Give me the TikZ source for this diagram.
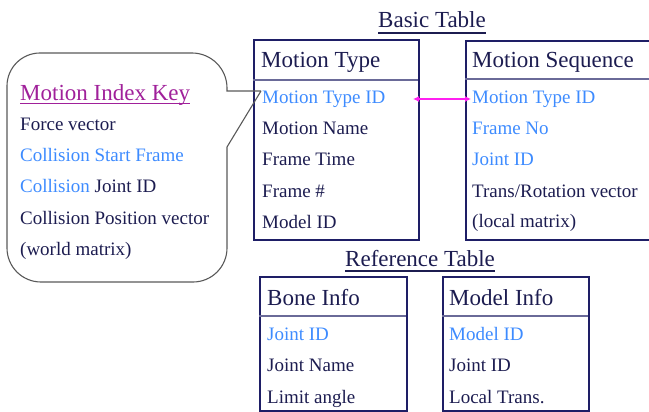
\documentclass[tikz,border=0pt]{standalone}
\usepackage{fontspec}
\setmainfont{Liberation Serif}
\usetikzlibrary{arrows.meta}
\definecolor{navy}{HTML}{1E1E66}
\definecolor{ink}{HTML}{1C1C50}
\definecolor{keyblue}{HTML}{3D8BFF}
\definecolor{keypurple}{HTML}{A0209A}
\definecolor{rule}{HTML}{6A6A98}
\definecolor{linkpink}{HTML}{FF20F0}
\tikzset{
  x=1pt, y=-1pt,
  tablebox/.style={draw=navy, line width=2.2pt},
  headrule/.style={draw=rule, line width=1.4pt},
  txt/.style={anchor=base west, inner sep=0pt, font=\fontsize{19}{22}\selectfont, text=ink},
  keytxt/.style={txt, text=keyblue},
  headtxt/.style={anchor=base west, inner sep=0pt, font=\fontsize{23}{26}\selectfont, text=ink},
  titletxt/.style={headtxt},
  uline/.style={draw=ink, line width=1.2pt},
  balloon/.style={draw=black!65, line width=1.1pt},
  link/.style={draw=linkpink, line width=1.5pt, {Latex[length=6pt,width=6pt]}-{Latex[length=6pt,width=6pt]}}
}
\begin{document}
\begin{tikzpicture}
\useasboundingbox (0,0) rectangle (649,412);

% ---- titles
\node[titletxt] (basic) at (378,28) {Basic Table};
\draw[uline] ([yshift=-5pt]basic.base west) -- ([yshift=-5pt]basic.base east);
\node[titletxt] (ref) at (345,266) {Reference Table};
\draw[uline] ([yshift=-5pt]ref.base west) -- ([yshift=-5pt]ref.base east);

% ---- Motion Type table
\node[tablebox, anchor=north west, minimum width=165pt, minimum height=200pt, inner sep=0pt] (mt) at (253,39) {};
\draw[headrule] (253,80) coordinate (mtl) -- (418,80) coordinate (mtr);
\node[headtxt] (mth) at (261,68) {Motion Type};
\node[keytxt] (mtid) at (262,104) {Motion Type ID};
\node[txt] (mtname) at (262,135) {Motion Name};
\node[txt] (mttime) at (262,166) {Frame Time};
\node[txt] (mtframe) at (262,197) {Frame \#};
\node[txt] (mtmodel) at (262,228) {Model ID};

% ---- Motion Sequence table (runs past the right edge)
\node[tablebox, anchor=north west, minimum width=200pt, minimum height=199pt, inner sep=0pt] (ms) at (465,40) {};
\draw[headrule] (465,79) coordinate (msl) -- (665,79) coordinate (msr);
\node[headtxt] (msh) at (472,68) {Motion Sequence};
\node[keytxt] (msid) at (472,104) {Motion Type ID};
\node[keytxt] (msframe) at (472,135) {Frame No};
\node[keytxt] (msjoint) at (472,165) {Joint ID};
\node[txt] (msvec) at (472,197) {Trans/Rotation vector};
\node[txt] (msloc) at (472,227) {(local matrix)};

% ---- link between the two Motion Type ID fields
\coordinate (linkA) at (413,99);
\coordinate (linkB) at (471,99);
\draw[link] (linkA) -- (linkB);

% ---- Bone Info table
\node[tablebox, anchor=north west, minimum width=147pt, minimum height=134pt, inner sep=0pt] (bi) at (259,276) {};
\draw[headrule] (259,316) coordinate (bil) -- (406,316) coordinate (bir);
\node[headtxt] (bih) at (267,305) {Bone Info};
\node[keytxt] (bijoint) at (267,340) {Joint ID};
\node[txt] (biname) at (267,371) {Joint Name};
\node[txt] (bilimit) at (267,403) {Limit angle};

% ---- Model Info table
\node[tablebox, anchor=north west, minimum width=146pt, minimum height=134pt, inner sep=0pt] (mi) at (442,276) {};
\draw[headrule] (442,316) coordinate (mil) -- (588,316) coordinate (mir);
\node[headtxt] (mih) at (449,305) {Model Info};
\node[keytxt] (mimodel) at (449,340) {Model ID};
\node[txt] (mijoint) at (449,371) {Joint ID};
\node[txt] (mitrans) at (449,403) {Local Trans.};

% ---- callout balloon pointing at Motion Type ID
\coordinate (tip) at (261,91);
\draw[balloon]
  (tip) -- (227,91) -- (227,88)
  .. controls (227,68.7) and (211.3,53) .. (192,53)
  -- (40,53)
  .. controls (21.8,53) and (7,67.8) .. (7,86)
  -- (7,248)
  .. controls (7,266.8) and (22.2,282) .. (41,282)
  -- (193,282)
  .. controls (211.8,282) and (227,266.8) .. (227,248)
  -- (227,147) -- (tip);
\node[headtxt, text=keypurple] (mik) at (20,101) {Motion Index Key};
\draw[draw=keypurple, line width=1.2pt] ([yshift=-2.5pt]mik.base west) -- ([yshift=-2.5pt]mik.base east);
\node[txt] (force) at (20,131) {Force vector};
\node[keytxt] (cstart) at (20,161) {Collision Start Frame};
\node[txt] (cjoint) at (20,193) {\textcolor{keyblue}{Collision} Joint ID};
\node[txt] (cpos) at (20,224) {Collision Position vector};
\node[txt] (world) at (20,255) {(world matrix)};
\end{tikzpicture}
\end{document}
